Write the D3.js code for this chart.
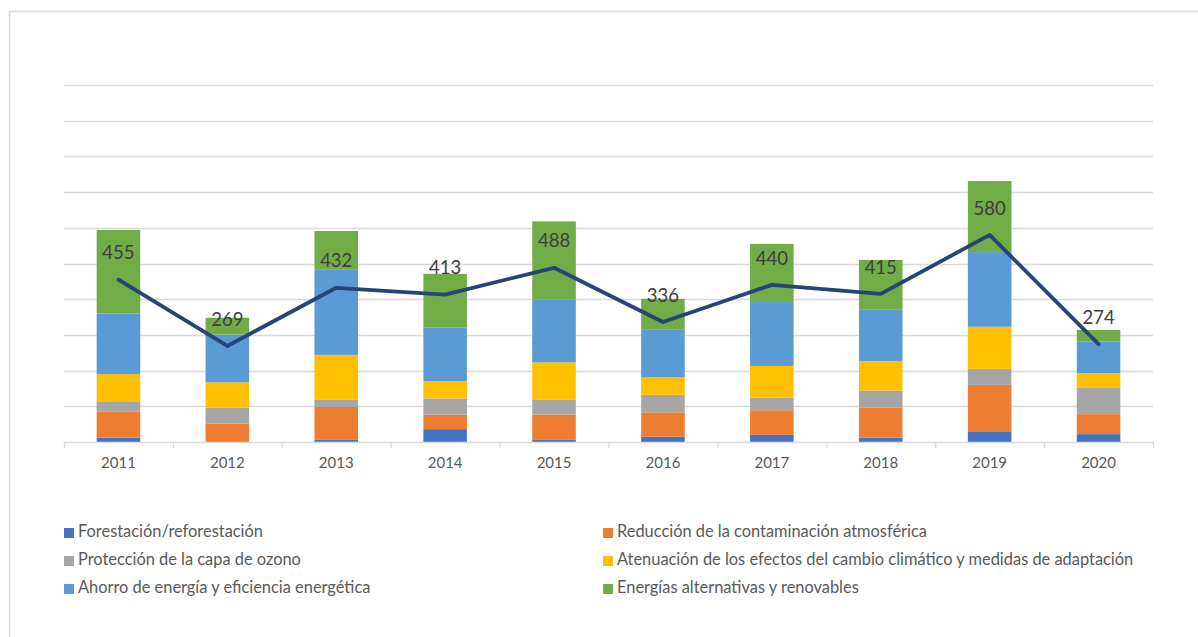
<!DOCTYPE html>
<html>
<head>
<meta charset="utf-8">
<script src="https://cdn.jsdelivr.net/npm/d3@7"></script>
<style>
    body { margin: 0; background: #fff; }
    svg { display: block; font-family: Lato, "Open Sans", sans-serif; }
</style>
</head>
<body>
<div id="chart"></div>
<script>
// Years on the x axis
const years = ["2011", "2012", "2013", "2014", "2015", "2016", "2017", "2018", "2019", "2020"];

// Stacked series
const forestacion = [12, 0, 6, 36, 6, 15, 20, 12, 28, 22];
const reduccion   = [74, 52, 92, 41, 71, 68, 69, 84, 132, 56];
const ozono       = [28, 44, 20, 45, 41, 49, 35, 48, 45, 75];
const atenuacion  = [76, 71, 126, 48, 105, 50, 89, 83, 118, 40];
const ahorro      = [170, 134, 240, 151, 177, 134, 179, 145, 209, 88];
const energias    = [234, 47, 107, 150, 218, 85, 163, 138, 199, 33];

// Totals shown by the line
const totals = [455, 269, 432, 413, 488, 336, 440, 415, 580, 274];

const seriesNames = [
    "Forestación/reforestación",
    "Reducción de la contaminación atmosférica",
    "Protección de la capa de ozono",
    "Atenuación de los efectos del cambio climático y medidas de adaptación",
    "Ahorro de energía y eficiencia energética",
    "Energías alternativas y renovables"
];
const seriesColors = ["#4472C4", "#ED7D31", "#A5A5A5", "#FFC000", "#5B9BD5", "#70AD47"];
const seriesValues = [forestacion, reduccion, ozono, atenuacion, ahorro, energias];

const width = 1198, height = 637;

// build rows for d3.stack
const rows = years.map((y, i) => {
    const r = {year: y};
    seriesNames.forEach((s, k) => r[s] = seriesValues[k][i]);
    return r;
});
const stacked = d3.stack().keys(seriesNames)(rows);

const x = d3.scaleBand()
    .domain(years)
    .range([64, 1153])
    .paddingInner(0.6)
    .paddingOuter(0.3);

// primary (bars) and secondary (line) axes share the same 0-1000 span
const yBar = d3.scaleLinear().domain([0, 1000]).range([442, 85]);
const yLine = d3.scaleLinear().domain([0, 1000]).range([442, 85]);

const svg = d3.select("#chart")
    .append("svg")
    .attr("width", width)
    .attr("height", height);

// chart frame
svg.append("path")
    .attr("d", "M9.5,637V11.5H1198")
    .attr("fill", "none")
    .attr("stroke", "#d9d9d9")
    .attr("stroke-width", 1.5);

// gridlines
svg.append("g")
    .selectAll("line")
    .data(yBar.ticks(10).filter(d => d > 0))
    .join("line")
    .attr("x1", 64)
    .attr("x2", 1153)
    .attr("y1", d => Math.round(yBar(d)) + 0.5)
    .attr("y2", d => Math.round(yBar(d)) + 0.5)
    .attr("stroke", "#d9d9d9")
    .attr("stroke-width", 1.3);

// bars
svg.append("g")
    .selectAll("g")
    .data(stacked)
    .join("g")
    .attr("fill", (d, i) => seriesColors[i])
    .selectAll("rect")
    .data(d => d)
    .join("rect")
    .attr("x", d => x(d.data.year))
    .attr("width", x.bandwidth())
    .attr("y", d => yBar(d[1]))
    .attr("height", d => yBar(d[0]) - yBar(d[1]));

// x axis: baseline and ticks at band boundaries
const step = x.step();
const axis = svg.append("g");
axis.append("line")
    .attr("x1", 64).attr("x2", 1153)
    .attr("y1", 442.5).attr("y2", 442.5)
    .attr("stroke", "#d9d9d9")
    .attr("stroke-width", 1.3);
axis.selectAll(".tick")
    .data(d3.range(years.length + 1))
    .join("line")
    .attr("class", "tick")
    .attr("x1", i => 64 + i * step + 0.5)
    .attr("x2", i => 64 + i * step + 0.5)
    .attr("y1", 442)
    .attr("y2", 448)
    .attr("stroke", "#d9d9d9")
    .attr("stroke-width", 1.3);
axis.selectAll("text")
    .data(years)
    .join("text")
    .attr("x", d => x(d) + x.bandwidth() / 2)
    .attr("y", 464)
    .attr("text-anchor", "middle")
    .attr("dominant-baseline", "middle")
    .attr("fill", "#595959")
    .style("font-size", "15px")
    .text(d => d);

// total line
const line = d3.line()
    .x((d, i) => x(years[i]) + x.bandwidth() / 2)
    .y(d => yLine(d));

svg.append("path")
    .datum(totals)
    .attr("d", line)
    .attr("fill", "none")
    .attr("stroke", "#264478")
    .attr("stroke-width", 3.8)
    .attr("stroke-linejoin", "round")
    .attr("stroke-linecap", "round");

// data labels
svg.append("g")
    .selectAll("text")
    .data(totals)
    .join("text")
    .attr("x", (d, i) => x(years[i]) + x.bandwidth() / 2)
    .attr("y", d => yLine(d) - 25)
    .attr("text-anchor", "middle")
    .attr("dominant-baseline", "middle")
    .attr("fill", "#404040")
    .style("font-size", "18.5px")
    .text(d => d);

// legend, two columns
const legend = svg.append("g")
    .selectAll("g")
    .data(seriesNames)
    .join("g")
    .attr("transform", (d, i) => `translate(${i % 2 === 0 ? 64 : 603},${533 + Math.floor(i / 2) * 28})`);

legend.append("rect")
    .attr("x", 0)
    .attr("y", -5)
    .attr("width", 10)
    .attr("height", 10)
    .attr("fill", (d, i) => seriesColors[i]);

legend.append("text")
    .attr("x", 14)
    .attr("y", 0)
    .attr("dominant-baseline", "middle")
    .attr("fill", "#595959")
    .style("font-size", "16.4px")
    .text(d => d);
</script>
</body>
</html>
